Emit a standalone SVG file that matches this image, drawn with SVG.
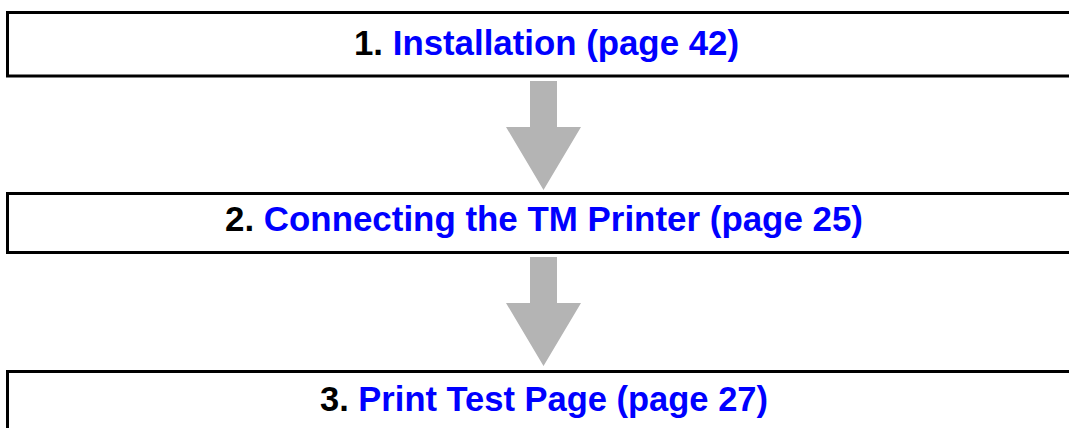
<svg xmlns="http://www.w3.org/2000/svg" width="1069" height="428" viewBox="0 0 1069 428">
<style>
.box{fill:#fff;stroke:#000;stroke-width:3}
.t{font-family:"Liberation Sans",Arial,sans-serif;font-weight:bold;font-size:35px}
.n{fill:#000}
.l{fill:#0000ff}
.arr{fill:#b4b4b4}
</style>
<defs>
<path id="arrow" d="M-13.5,0 H13.5 V46 H37.5 L0,109 L-37.5,46 H-13.5 Z"/>
</defs>
<g id="node1">
<rect class="box" x="7.5" y="12.5" width="1070" height="63.5"/>
<text class="t" x="354" y="55" textLength="385" lengthAdjust="spacingAndGlyphs"><tspan class="n">1. </tspan><tspan class="l">Installation (page 42)</tspan></text>
</g>
<g id="node2">
<rect class="box" x="7.5" y="193.5" width="1070" height="59"/>
<text class="t" x="225" y="231" textLength="638" lengthAdjust="spacingAndGlyphs"><tspan class="n">2. </tspan><tspan class="l">Connecting the TM Printer (page 25)</tspan></text>
</g>
<g id="node3">
<rect class="box" x="7.5" y="371.5" width="1070" height="70"/>
<text class="t" x="320" y="411" textLength="448" lengthAdjust="spacingAndGlyphs"><tspan class="n">3. </tspan><tspan class="l">Print Test Page (page 27)</tspan></text>
</g>
<g id="connectors">
<use href="#arrow" class="arr" x="543.5" y="81"/>
<use href="#arrow" class="arr" x="543.5" y="257"/>
</g>
</svg>
